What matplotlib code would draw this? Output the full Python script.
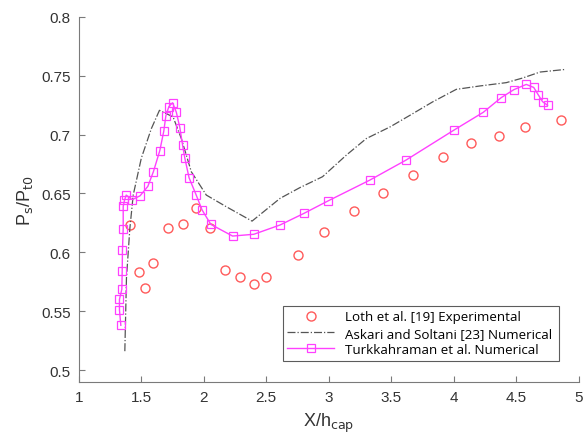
import numpy as np
import matplotlib.pyplot as plt

plt.rcParams['font.family'] = ['Liberation Sans', 'DejaVu Sans']

# Loth et al. [19] experimental
loth_x = [1.41, 1.48, 1.53, 1.59, 1.71, 1.83, 1.94, 2.05, 2.17, 2.29, 2.40, 2.50,
          2.75, 2.96, 3.20, 3.435, 3.67, 3.91, 4.14, 4.36, 4.57, 4.86]
loth_y = [0.623, 0.583, 0.570, 0.591, 0.621, 0.624, 0.638, 0.621, 0.585, 0.579, 0.573, 0.579,
          0.598, 0.6175, 0.635, 0.6506, 0.666, 0.681, 0.6926, 0.699, 0.7065, 0.7124]

# Askari and Soltani [23] numerical
ask_x = [1.368, 1.381, 1.408, 1.435, 1.50, 1.58, 1.645, 1.70, 1.754, 1.82, 1.90, 2.02,
         2.18, 2.386, 2.61, 2.77, 2.95, 3.14, 3.30, 3.49, 3.65, 3.83, 4.02, 4.21, 4.42,
         4.55, 4.69, 4.89]
ask_y = [0.516, 0.578, 0.620, 0.6486, 0.680, 0.705, 0.7206, 0.7178, 0.715, 0.6966, 0.6684,
         0.6486, 0.6387, 0.6265, 0.6458, 0.655, 0.6642, 0.6825, 0.6966, 0.7065, 0.7164,
         0.7277, 0.7384, 0.7413, 0.7441, 0.748, 0.7531, 0.7553]

# Turkkahraman et al. numerical
tur_x = [1.336, 1.325, 1.325, 1.344, 1.347, 1.349, 1.355, 1.355, 1.365, 1.379, 1.427, 1.49,
         1.552, 1.597, 1.648, 1.68, 1.696, 1.72, 1.75, 1.78, 1.808, 1.83, 1.848, 1.882,
         1.938, 1.986, 2.056, 2.23, 2.40, 2.61, 2.80, 2.995, 3.328, 3.616, 4.0, 4.236,
         4.38, 4.48, 4.58, 4.64, 4.677, 4.71, 4.75]
tur_y = [0.538, 0.551, 0.560, 0.5686, 0.584, 0.602, 0.620, 0.639, 0.644, 0.6486, 0.6447, 0.648,
         0.656, 0.6686, 0.6864, 0.7031, 0.7158, 0.7237, 0.727, 0.719, 0.706, 0.691, 0.680, 0.6633,
         0.6489, 0.636, 0.6237, 0.6138, 0.6153, 0.6232, 0.633, 0.6437, 0.6613, 0.6782, 0.7037, 0.7189,
         0.7314, 0.7381, 0.7426, 0.740, 0.7336, 0.728, 0.7249]

fig = plt.figure(figsize=(5.84, 4.35), dpi=100)
ax = fig.add_axes([0.135, 0.12, 0.856, 0.839])

ax.plot(loth_x, loth_y, 'o', ls='none', mfc='none', mec='#ff5a5a', ms=6.5, mew=1.0,
        label='Loth et al. [19] Experimental')
ax.plot(ask_x, ask_y, color='#555555', ls='-.', lw=0.9,
        label='Askari and Soltani [23] Numerical')
ax.plot(tur_x, tur_y, color='#ff40ff', lw=1.0, marker='s', mfc='none', mec='#ff40ff',
        ms=5.8, mew=0.9, label='Turkkahraman et al. Numerical')

ax.set_xlim(1, 5)
ax.set_ylim(0.49, 0.8)
ax.set_xticks(np.arange(1, 5.01, 0.5))
ax.set_xticklabels(['1', '1.5', '2', '2.5', '3', '3.5', '4', '4.5', '5'])
ax.set_yticks(np.arange(0.5, 0.801, 0.05))
ax.set_yticklabels(['0.5', '0.55', '0.6', '0.65', '0.7', '0.75', '0.8'])

for s in ['top', 'right']:
    ax.spines[s].set_visible(False)
for s in ['left', 'bottom']:
    ax.spines[s].set_color('#7a7a7a')
ax.tick_params(direction='in', length=4, color='#7a7a7a', labelcolor='#333333',
               labelsize=11, pad=6)

ax.set_xlabel('X/h$_{\\mathrm{cap}}$', fontsize=13, color='#333333', labelpad=5)
ax.set_ylabel('P$_{\\mathrm{s}}$/P$_{\\mathrm{t0}}$', fontsize=13, color='#333333', labelpad=4)

leg = ax.legend(loc='lower left', bbox_to_anchor=(0.408, 0.058, 0.552, 0.15), mode='expand',
                borderaxespad=0, handlelength=3.5, frameon=True, fancybox=False,
                borderpad=0.35, labelspacing=0.25, handletextpad=0.8,
                prop={'family': ['Open Sans', 'DejaVu Sans'], 'size': 9.6})
leg.get_frame().set_edgecolor('#333333')
leg.get_frame().set_linewidth(0.8)

fig.savefig('out.png', dpi=100)
